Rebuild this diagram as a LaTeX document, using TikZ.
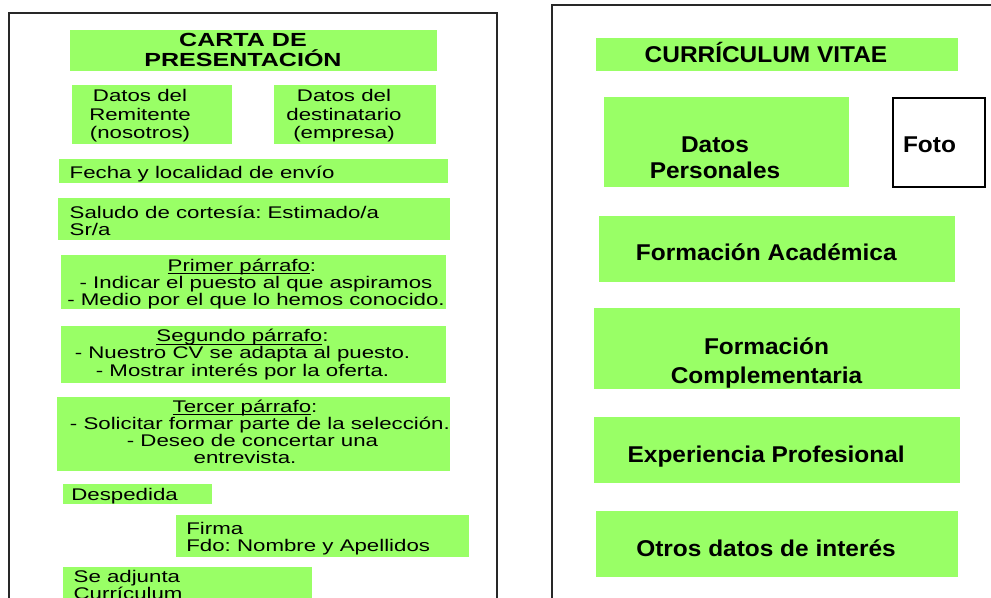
\documentclass[tikz,border=0pt]{standalone}
\usepackage{fontspec}
\usepackage{xcolor}
\usetikzlibrary{fit}
\newfontfamily\izq[FakeStretch=1.32]{Liberation Sans}
\newfontfamily\der[FakeStretch=1.07]{Liberation Sans}
\definecolor{cajaverde}{RGB}{153,255,102}
\definecolor{marcogris}{RGB}{40,40,40}
\newcommand\subrayado[1]{\underline{\raisebox{0pt}[\height][0pt]{#1}}}
\frenchspacing

\begin{document}
\begin{tikzpicture}[x=0.02cm, y=-0.02cm,
    caja/.style={rectangle, fill=cajaverde, inner sep=0pt},
    marco/.style={draw=marcogris, line width=0.9pt},
    txt/.style={inner sep=0pt, align=center, font=\izq\fontsize{9.6}{9.8}\selectfont},
    titulo/.style={inner sep=0pt, align=center, font=\izq\bfseries\fontsize{10.8}{11.7}\selectfont},
    cvtxt/.style={inner sep=0pt, align=center, font=\der\bfseries\fontsize{13}{14.9}\selectfont}
]
\useasboundingbox (0,0) rectangle (991,598);
\clip (0,0) rectangle (991,598);

% Frames
\draw[marco] (9,600) -- (9,13) -- (497,13) -- (497,600);
\draw[marco] (552,600) -- (552,5) -- (993,5);

% Carta de presentacion (left)
\node[caja, fit={(70,30) (437,71)}] (carta) {};
\node[titulo] (t-carta) at (243,49.8) {CARTA DE\\PRESENTACIÓN};

\node[caja, fit={(72,85) (232,144)}] (remitente) {};
\node[txt, font=\izq\fontsize{9.6}{10.4}\selectfont] (t-remitente) at (140,115.7) {Datos del\\Remitente\\(nosotros)};
\node[caja, fit={(274,85) (436,144)}] (destinatario) {};
\node[txt, font=\izq\fontsize{9.6}{10.4}\selectfont] (t-destinatario) at (344,115.7) {Datos del\\destinatario\\(empresa)};

\node[caja, fit={(59,159) (448,183)}] (fecha) {};
\node[txt, anchor=base west] (t-fecha) at (69.3,178.3) {Fecha y localidad de envío};

\node[caja, fit={(58,198) (450,240)}] (saludo) {};
\node[txt, align=left, anchor=west] (t-saludo) at (69.3,221.1) {Saludo de cortesía: Estimado/a\\Sr/a};

\node[caja, fit={(61,255) (446,309)}] (primero) {};
\node[txt] (t-primero) at (256,284) {\subrayado{Primer párrafo}:\hspace*{16pt}\\- Indicar el puesto al que aspiramos\\- Medio por el que lo hemos conocido.};

\node[caja, fit={(61,326) (446,383)}] (segundo) {};
\node[txt] (t-segundo) at (242.5,354.5) {\subrayado{Segundo párrafo}:\\- Nuestro CV se adapta al puesto.\\- Mostrar interés por la oferta.};

\node[caja, fit={(57,397) (450,471)}] (tercero) {};
\node[txt] (t-tercero) at (245,432) {\subrayado{Tercer párrafo}:\\\hspace*{17pt}- Solicitar formar parte de la selección.\\\hspace*{8.5pt}- Deseo de concertar una\\entrevista.};

\node[caja, fit={(63,484) (212,504)}] (despedida) {};
\node[txt, anchor=base west] (t-despedida) at (71,500) {Despedida};

\node[caja, fit={(176,515) (469,557)}] (firma) {};
\node[txt, align=left, anchor=west] (t-firma) at (186,538.6) {Firma\\Fdo: Nombre y Apellidos};

\node[caja, fit={(63,567) (312,610)}] (adjunto) {};
\node[txt, align=left, anchor=west] (t-adjunto) at (73.3,585.3) {Se adjunta\\Currículum};

% Curriculum vitae (right)
\node[caja, fit={(596,38) (958,71)}] (cv) {};
\node[cvtxt, anchor=base] (t-cv) at (766,62.3) {CURRÍCULUM VITAE};

\node[caja, fit={(604,97) (849,187)}] (personales) {};
\node[cvtxt] (t-personales) at (715,157.4) {Datos\\Personales};
\node[draw=black, line width=0.7pt, inner sep=0pt, fit={(893,98) (985,187)}] (foto) {};
\node[cvtxt, anchor=base west] (t-foto) at (902.7,153) {Foto};

\node[caja, fit={(599,216) (955,282)}] (academica) {};
\node[cvtxt, anchor=base] (t-academica) at (766.3,260.7) {Formación Académica};

\node[caja, fit={(594,308) (960,389)}] (complementaria) {};
\node[cvtxt, font=\der\bfseries\fontsize{13}{16.6}\selectfont] (t-complementaria) at (766.5,362.6) {Formación\\Complementaria};

\node[caja, fit={(594,417) (960,483)}] (experiencia) {};
\node[cvtxt, anchor=base] (t-experiencia) at (766.2,462.7) {Experiencia Profesional};

\node[caja, fit={(596,511) (958,577)}] (otros) {};
\node[cvtxt, anchor=base] (t-otros) at (766,556.7) {Otros datos de interés};

\end{tikzpicture}
\end{document}
